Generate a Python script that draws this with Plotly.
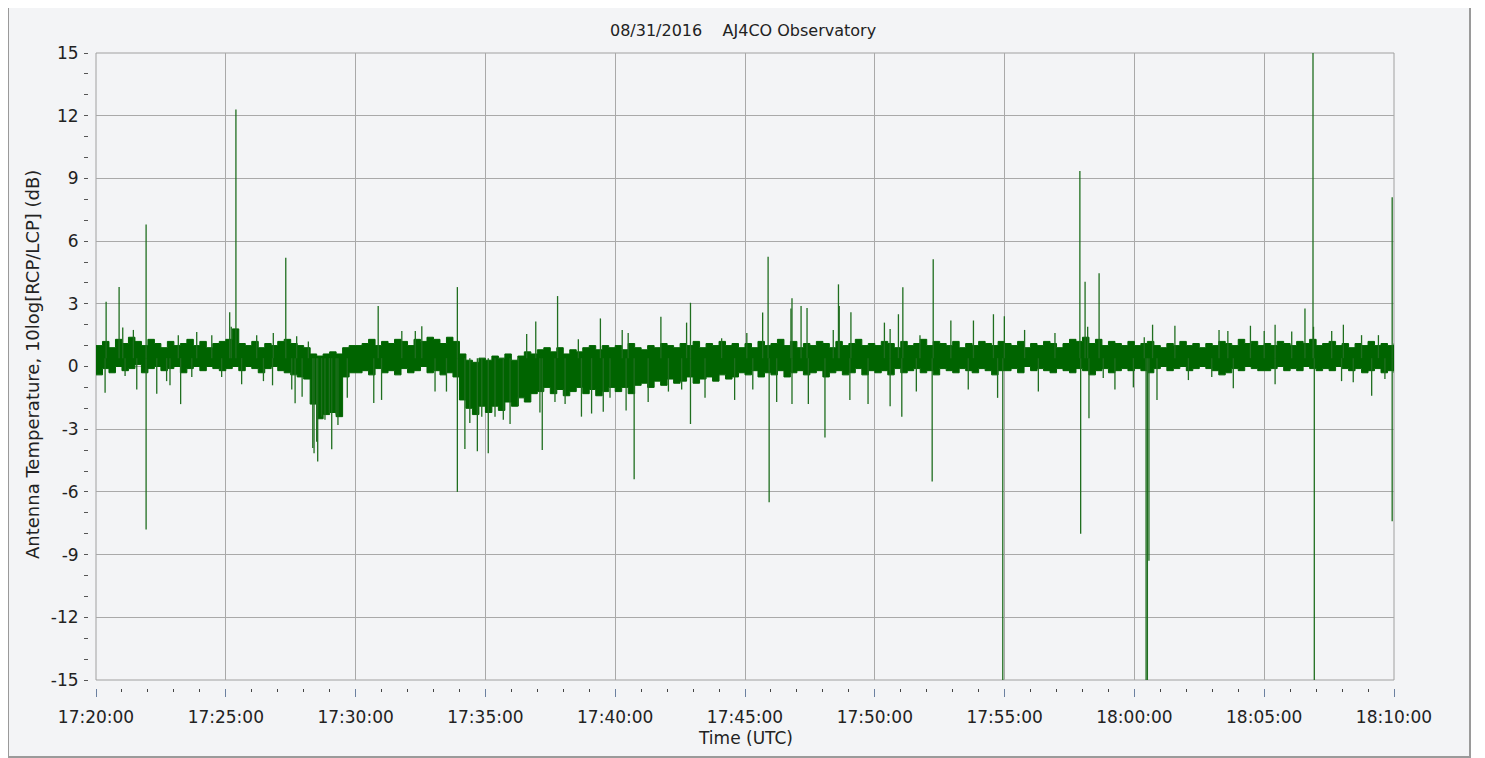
import numpy as np
import pandas as pd
import plotly.graph_objects as go

# ---------------- data ----------------
# minutes after 17:20:00 UTC, quarter-minute envelope of the dense noise band
band_t = [i * 0.25 for i in range(201)]
band_hi = [
    # 17:20 - 17:25
    1.0, 1.2, 0.9, 1.3, 1.1, 1.4, 1.2, 1.0, 1.3, 1.1, 0.9, 1.2, 1.0, 1.1, 1.3, 1.0, 1.2, 0.9, 1.1, 1.2,
    # 17:25 - 17:30
    1.3, 1.8, 1.1, 1.0, 1.2, 0.9, 1.1, 1.0, 1.2, 1.3, 1.1, 1.0, 0.9, 0.6, 0.5, 0.6, 0.7, 0.6, 0.9, 1.0,
    # 17:30 - 17:35
    1.0, 1.1, 1.3, 1.0, 1.2, 1.1, 1.3, 1.2, 1.0, 1.3, 1.2, 1.4, 1.3, 1.1, 1.4, 1.2, 0.6, 0.3, 0.2, 0.4,
    # 17:35 - 17:40
    0.3, 0.5, 0.4, 0.6, 0.3, 0.5, 0.7, 0.6, 0.8, 0.9, 0.7, 0.9, 0.6, 0.8, 0.7, 0.9, 1.0, 0.8, 1.0, 0.9,
    # 17:40 - 17:45
    1.0, 0.8, 1.1, 0.9, 0.8, 1.0, 0.9, 1.1, 1.0, 0.9, 1.1, 1.0, 1.2, 0.9, 1.1, 1.0, 1.2, 1.0, 1.1, 0.9,
    # 17:45 - 17:50
    1.1, 0.9, 1.2, 1.0, 1.1, 1.3, 1.0, 1.2, 0.9, 1.1, 1.0, 1.2, 1.1, 0.9, 1.2, 1.0, 1.1, 1.3, 1.0, 1.1,
    # 17:50 - 17:55
    1.0, 1.2, 1.1, 0.9, 1.2, 1.0, 1.1, 1.3, 1.0, 1.2, 1.1, 1.0, 1.2, 0.9, 1.1, 1.0, 1.2, 1.1, 1.0, 1.2,
    # 17:55 - 18:00
    1.1, 1.0, 1.2, 0.9, 1.1, 1.0, 1.2, 1.1, 0.9, 1.1, 1.3, 1.2, 1.4, 1.1, 1.3, 1.0, 1.2, 1.1, 1.0, 1.2,
    # 18:00 - 18:05
    1.0, 1.1, 1.2, 1.0, 0.9, 1.1, 1.0, 1.2, 1.0, 1.1, 0.9, 1.1, 1.0, 1.2, 1.1, 1.0, 1.3, 1.1, 1.2, 1.0,
    # 18:05 - 18:10
    1.1, 1.0, 1.2, 1.1, 1.0, 1.2, 1.1, 1.3, 1.0, 1.1, 1.2, 1.0, 1.1, 0.9, 1.1, 1.0, 1.2, 1.0, 1.1, 1.0, 1.1,
]
band_lo = [
    -0.4, -0.1, -0.3, 0.0, -0.2, -0.1, 0.1, -0.3, -0.1, 0.0, -0.2, -0.1, 0.0, -0.3, -0.1, 0.0, -0.2, 0.0, -0.1, -0.2,
    -0.1, 0.0, -0.2, 0.0, -0.1, -0.3, -0.1, 0.0, -0.2, -0.3, -0.4, -0.5, -0.6, -1.8, -2.5, -2.3, -2.2, -2.4, -0.5, -0.3,
    -0.3, -0.2, -0.4, -0.1, -0.3, -0.2, -0.4, -0.1, -0.3, -0.2, 0.0, -0.3, -0.2, -0.4, -0.3, -0.5, -1.6, -2.0, -2.3, -1.9,
    -2.2, -1.9, -2.1, -1.7, -1.9, -1.5, -1.7, -1.3, -1.2, -1.0, -1.3, -1.1, -1.4, -1.2, -1.0, -1.3, -1.1, -1.4, -1.2, -1.0,
    -1.2, -1.0, -1.3, -0.9, -0.8, -1.0, -0.7, -0.9, -0.6, -0.8, -0.7, -0.5, -0.8, -0.6, -0.5, -0.7, -0.4, -0.6, -0.5, -0.3,
    -0.4, -0.2, -0.5, -0.3, -0.4, -0.2, -0.5, -0.3, -0.2, -0.4, -0.3, -0.2, -0.5, -0.3, -0.2, -0.4, -0.3, -0.1, -0.4, -0.2,
    -0.3, -0.2, -0.4, -0.1, -0.3, -0.2, -0.1, -0.3, -0.2, -0.4, -0.1, -0.2, -0.3, -0.1, -0.2, -0.3, -0.1, -0.2, -0.4, -0.2,
    -0.2, -0.1, -0.3, 0.0, -0.2, -0.1, -0.2, -0.3, -0.1, -0.2, -0.3, -0.1, -0.2, -0.4, -0.2, -0.1, -0.3, -0.2, -0.1, -0.2,
    -0.1, -0.2, -0.3, -0.1, 0.0, -0.2, -0.1, 0.0, -0.2, -0.1, 0.0, -0.1, -0.2, -0.4, -0.3, -0.1, -0.2, 0.0, -0.1, -0.2,
    -0.2, -0.1, 0.0, -0.2, -0.1, -0.2, 0.0, -0.1, -0.2, -0.1, -0.2, 0.0, -0.1, -0.2, -0.1, -0.3, -0.2, -0.1, -0.3, -0.2, -0.3,
]

# spikes: (minute, value)
spike_t = [0.39, 0.89, 1.93, 1.93, 5.39, 7.31, 10.87, 13.92, 13.92, 17.19, 17.78, 20.73,
           22.9, 22.9, 25.89, 25.93, 26.81, 28.6, 28.08, 31.08, 31.04, 32.25, 32.21, 34.93,
           37.9, 37.93, 38.1, 38.25, 38.64, 40.45, 40.5, 40.56, 46.88, 46.93, 49.93, 49.93,
           # medium / fringe
           0.35, 1.57, 1.03, 2.34, 3.26, 5.15, 5.21, 7.67, 7.94, 8.35, 8.4, 8.5, 8.54, 8.69, 8.82,
           8.99, 9.08, 9.25, 9.32, 9.68, 10.7, 11.0, 11.78, 12.3, 1.44, 3.17, 3.88, 4.46, 6.19,
           6.83, 7.73, 8.18, 1.12, 2.85, 2.72, 3.69, 4.84, 5.61, 6.45, 6.8, 7.54,
           12.55, 13.06, 13.5, 14.21, 14.4, 14.69, 14.86, 15.11, 15.37, 15.69, 15.95, 16.27,
           16.59, 16.94, 17.1, 17.68, 18.07, 18.58, 18.7, 19.09, 19.43, 19.54, 19.8, 20.27,
           20.42, 20.5, 21.27, 21.76, 22.05, 22.56, 22.75, 23.46, 24.1, 24.6,
           25.07, 25.3, 25.68, 26.22, 26.77, 26.81, 27.16, 27.39, 27.44, 28.4, 28.63, 29.04,
           29.08, 29.74, 30.37, 30.59, 30.59, 30.91, 31.6, 31.74, 32.93, 33.6, 33.8, 34.57,
           34.73, 34.99, 35.77, 36.3, 36.94,
           38.2, 38.8, 39.25, 39.96, 40.38, 40.7, 40.87, 41.56, 42.08, 42.98, 43.26, 43.6,
           43.81, 44.47, 45.0, 45.42, 45.42, 46.06, 46.57, 46.9, 47.6, 47.98, 48.05, 48.43,
           48.75, 49.14, 49.4, 49.65]
spike_v = [3.1, 3.8, 6.8, -7.8, 12.3, 5.2, 2.9, 3.8, -6.0, -4.0, 3.37, -5.4,
           3.05, -2.75, 5.25, -6.5, 3.26, 3.93, -3.4, 3.79, -2.4, 5.13, -5.5, -15.0,
           9.35, -8.0, 4.05, -2.48, 4.46, -15.0, -15.0, -9.3, 15.0, -15.0, 8.1, -7.4,
           -1.25, -1.1, 1.87, -1.3, -1.8, 2.6, 1.9, -1.76, -1.45, -3.9, -4.15, -3.6, -4.55, -2.4, -2.55,
           -2.25, -3.96, -2.3, -2.8, -1.5, -1.75, -1.6, 1.7, 1.7, 1.75, 1.5, 1.65, 1.5, 1.5,
           1.6, 1.45, 1.2, -0.45, -0.9, -0.7, -0.5, -0.5, -0.85, -0.7, -0.9, -1.1,
           1.93, -1.2, -1.2, -3.95, -2.7, -4.06, -2.4, -4.15, -2.4, -2.55, -2.75, -1.9,
           1.55, 2.15, -2.2, -1.7, -1.8, 1.3, -2.4, -2.25, 2.3, -2.16, -1.5, 1.75,
           -2.1, 1.6, -1.7, 2.38, -1.2, -1.1, 2.1, -1.5, 1.35, -1.6,
           1.6, -1.1, 2.58, -1.7, 2.78, -1.8, 2.9, 2.8, -1.8, 1.75, 2.9, -1.6,
           2.6, -1.8, 2.1, 1.8, -1.9, 2.5, -1.2, 1.5, 2.2, -1.1, 2.2, 2.5,
           -1.5, 2.4, 1.75, -1.2, 1.6,
           1.9, -0.55, -1.1, -1.0, 1.4, 2.0, -1.6, 1.95, -0.65, -0.5, 1.75, 1.7,
           -1.04, 1.95, 1.7, 2.0, -0.85, 1.68, 2.78, 1.9, 1.7, -0.7, 2.0, -0.75,
           1.5, -1.4, 1.5, -0.6]
SPIKE_BASE = 0.4

y_ticks = [-15, -12, -9, -6, -3, 0, 3, 6, 9, 12, 15]
x_tick_labels = ["17:20:00", "17:25:00", "17:30:00", "17:35:00", "17:40:00", "17:45:00",
                 "17:50:00", "17:55:00", "18:00:00", "18:05:00", "18:10:00"]

# ---------------- layout geometry (page has an 8px body margin) ----------------
OFF = 8
W, H = 1485 - OFF, 758 - OFF
ML, MT = 88 - OFF, 53 - OFF
MR = W - (1394 - OFF)
MB = H - (688 - OFF)
PW, PH = W - ML - MR, H - MT - MB


def fx(px):  # screen px -> paper fraction
    return (px - OFF - ML) / PW


def fy(py):
    return (H - MB - (py - OFF)) / PH


start = pd.Timestamp("2016-08-31 17:20:00")


def ts(m):
    return (start + pd.to_timedelta(m, unit="m")).strftime("%Y-%m-%d %H:%M:%S.%f")


GREEN = "#006400"
bx = [ts(t) for t in band_t]

sx, sy = [], []
for t, v in zip(spike_t, spike_v):
    sx += [ts(t), ts(t), None]
    sy += [SPIKE_BASE, v, None]

fig = go.Figure()
fig.add_trace(go.Scatter(x=bx, y=band_lo, mode="lines", line=dict(color=GREEN, width=1, shape="hv"),
                         hoverinfo="skip", showlegend=False))
fig.add_trace(go.Scatter(x=bx, y=band_hi, mode="lines", line=dict(color=GREEN, width=1, shape="hv"),
                         fill="tonexty", fillcolor=GREEN, hoverinfo="skip", showlegend=False))
fig.add_trace(go.Scatter(x=sx, y=sy, mode="lines", line=dict(color="#1f6e1f", width=1.3),
                         hoverinfo="skip", showlegend=False, connectgaps=False))

tickvals_x = [ts(5 * i) for i in range(len(x_tick_labels))]

fig.update_layout(
    width=W, height=H,
    margin=dict(l=ML, r=MR, t=MT, b=MB, pad=0),
    paper_bgcolor="#ffffff",
    plot_bgcolor="rgba(0,0,0,0)",
    font=dict(family="DejaVu Sans", color="#222222"),
    xaxis=dict(
        type="date", range=[ts(0), ts(50)], domain=[fx(96), 1],
        tickvals=tickvals_x, ticktext=x_tick_labels,
        showgrid=True, gridcolor="#a9a9a9", gridwidth=1,
        zeroline=False, showline=False,
        ticks="outside", ticklen=8, tickcolor="#6b80a0", tickwidth=1,
        ticklabelstandoff=6,
        tickfont=dict(size=17, color="#222222"),
        anchor="free", position=0,
        minor=dict(dtick=60000, tick0=ts(0), ticks="outside", ticklen=3,
                   tickcolor="#444444", tickwidth=1, showgrid=False),
    ),
    yaxis=dict(
        range=[-15, 15], domain=[fy(680), 1],
        tickvals=y_ticks, ticktext=[str(v) if v >= 0 else "-" + str(-v) for v in y_ticks],
        showgrid=True, gridcolor="#a9a9a9", gridwidth=1,
        zeroline=False, showline=False,
        ticks="outside", ticklen=2, tickcolor="#555555", tickwidth=1,
        ticklabelstandoff=4,
        tickfont=dict(size=17, color="#222222"),
        anchor="free", position=0,
        minor=dict(dtick=1, tick0=0, ticks="outside", ticklen=4,
                   tickcolor="#555555", tickwidth=1, showgrid=False),
    ),
    shapes=[
        dict(type="rect", xref="paper", yref="paper", x0=fx(8), x1=fx(1470), y0=fy(757), y1=fy(7),
             fillcolor="#f3f4f6", line=dict(color="#9a9a9a", width=2), layer="below"),
        dict(type="rect", xref="x domain", yref="y domain", x0=0, x1=1, y0=0, y1=1,
             line=dict(color="#a0a0a0", width=1), layer="below"),
    ],
    annotations=[
        dict(text="08/31/2016&nbsp;&nbsp;&nbsp;&nbsp;AJ4CO Observatory", xref="paper", yref="paper",
             x=fx(743), y=fy(31), showarrow=False, xanchor="center", yanchor="middle",
             font=dict(size=16, color="#222222")),
        dict(text="Time (UTC)", xref="paper", yref="paper", x=fx(745), y=fy(738),
             showarrow=False, xanchor="center", yanchor="middle",
             font=dict(size=17, color="#222222")),
        dict(text="Antenna Temperature, 10log[RCP/LCP] (dB)", xref="paper", yref="paper",
             x=fx(32), y=fy(365), showarrow=False, xanchor="center", yanchor="middle",
             textangle=-90, font=dict(size=18, color="#222222")),
    ],
)

fig.write_html("out.html")
